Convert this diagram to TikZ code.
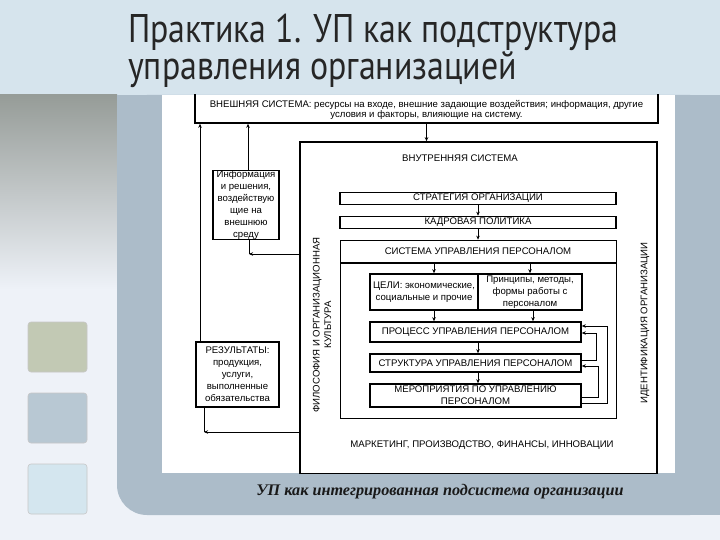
\documentclass[tikz,border=0pt]{standalone}
\usepackage{fontspec}
\setmainfont{Liberation Sans}
\newfontfamily\titlefont{PT Sans}
\newfontfamily\capfont{Liberation Serif}
\usetikzlibrary{arrows.meta}
\definecolor{bandblue}{RGB}{214,228,237}
\definecolor{pagebg}{RGB}{238,242,248}
\definecolor{panel}{RGB}{172,188,201}
\definecolor{sqgreen}{RGB}{194,201,180}
\definecolor{sqblue}{RGB}{184,200,211}
\definecolor{sqlight}{RGB}{212,230,239}
\definecolor{imgdark}{RGB}{104,104,92}
\definecolor{imgtop}{RGB}{150,156,152}
\begin{document}
\begin{tikzpicture}[x=1pt,y=-1pt,
  box/.style={draw, line width=1.6pt, inner sep=0pt, align=center, font=\fontsize{9.6}{12}\selectfont},
  thinbox/.style={draw, line width=0.7pt, inner sep=0pt},
  lbl/.style={inner sep=0pt, align=center, font=\fontsize{9.6}{11.5}\selectfont},
  arr/.style={line width=0.7pt, -{Stealth[length=4pt,width=3.5pt]}},
  link/.style={line width=0.7pt},
  sq/.style={rounded corners=3pt, draw=black!22, line width=0.6pt, minimum width=59pt, minimum height=50pt}]
\useasboundingbox (0,0) rectangle (720,540);
\fill[pagebg] (0,0) rectangle (720,540);
\fill[bandblue] (0,0) rectangle (720,95);
\shade[top color=imgtop, middle color=imgdark, bottom color=pagebg] (0,95) rectangle (117,290);
\fill[panel, rounded corners=30pt] (117,95) rectangle (720,515);
\fill[panel] (117,95) rectangle (720,300);
\fill[panel] (300,95) rectangle (720,515);
\fill[white] (162,95) rectangle (675,473);
\node[sq, fill=sqgreen] (sq1) at (57.5,347) {};
\node[sq, fill=sqblue] (sq2) at (57.5,418) {};
\node[sq, fill=sqlight] (sq3) at (57.5,489) {};
\node[anchor=base west, inner sep=0pt, text=black!85, font=\titlefont\fontsize{40}{42}\selectfont] (title1) at (128,43) {\scalebox{0.846}[1]{Практика 1. УП как подструктура}};
\node[anchor=base west, inner sep=0pt, text=black!85, font=\titlefont\fontsize{40}{42}\selectfont] (title2) at (128,80) {\scalebox{0.846}[1]{управления организацией}};
\begin{scope}
\clip (162,95) rectangle (675,473);
\node[box, minimum width=463pt, minimum height=40pt] (ext) at (426.5,103) {};
\node[lbl, font=\fontsize{9.6}{10.5}\selectfont] (exttxt) at (426.5,110) {ВНЕШНЯЯ СИСТЕМА: ресурсы на входе, внешние задающие воздействия; информация, другие\\условия и факторы, влияющие на систему.};
\node[box, minimum width=357pt, minimum height=332pt] (int) at (478.5,308) {};
\node[lbl] (inttxt) at (460,158) {ВНУТРЕННЯЯ СИСТЕМА};
\node[box, minimum width=276pt, minimum height=12pt] (strat) at (478,198.5) {СТРАТЕГИЯ ОРГАНИЗАЦИИ};
\node[box, minimum width=276pt, minimum height=12pt] (kadr) at (478,222.5) {КАДРОВАЯ ПОЛИТИКА};
\node[thinbox, minimum width=276pt, minimum height=178pt] (sup) at (478,329) {};
\node[lbl] (suptxt) at (478,251) {СИСТЕМА УПРАВЛЕНИЯ ПЕРСОНАЛОМ};
\coordinate (hdrL) at (340,263);
\coordinate (hdrR) at (616,263);
\draw[line width=1.6pt] (hdrL) -- (hdrR);
\node[box, minimum width=108pt, minimum height=36pt] (goalL) at (424,292) {ЦЕЛИ: экономические,\\социальные и прочие};
\node[box, minimum width=104pt, minimum height=36pt] (goalR) at (530,292) {Принципы, методы,\\формы работы с\\персоналом};
\node[box, minimum width=211pt, minimum height=20pt] (proc) at (475.5,332) {ПРОЦЕСС УПРАВЛЕНИЯ ПЕРСОНАЛОМ};
\node[box, minimum width=211pt, minimum height=18pt] (struct) at (475.5,363) {СТРУКТУРА УПРАВЛЕНИЯ ПЕРСОНАЛОМ};
\node[box, minimum width=211pt, minimum height=23pt] (event) at (475.5,395.5) {МЕРОПРИЯТИЯ ПО УПРАВЛЕНИЮ\\ПЕРСОНАЛОМ};
\node[box, minimum width=66pt, minimum height=68pt] (info) at (246,205) {Информация\\и решения,\\воздействую\\щие на\\внешнюю\\среду};
\node[box, minimum width=83pt, minimum height=65pt] (res) at (237.5,374.5) {РЕЗУЛЬТАТЫ:\\продукция,\\услуги,\\выполненные\\обязательства};
\node[lbl, rotate=90] (phil) at (322,325) {ФИЛОСОФИЯ И ОРГАНИЗАЦИОННАЯ\\КУЛЬТУРА};
\node[lbl, rotate=90] (ident) at (645,323) {ИДЕНТИФИКАЦИЯ ОРГАНИЗАЦИИ};
\node[lbl] (mkt) at (482,445) {МАРКЕТИНГ, ПРОИЗВОДСТВО, ФИНАНСЫ, ИННОВАЦИИ};
\draw[arr] (ext.south) -- (ext.south |- int.north);
\draw[arr] (strat) -- (kadr);
\draw[arr] (kadr) -- (kadr.south |- sup.north);
\draw[arr] ([xshift=10pt]goalL.north |- hdrL) -- ([xshift=10pt]goalL.north);
\draw[arr] (goalR.north |- hdrR) -- (goalR.north);
\draw[arr] ([xshift=10pt]goalL.south) -- ([xshift=10pt]goalL.south |- proc.north);
\draw[arr] ([xshift=3pt]goalR.south) -- ([xshift=3pt]goalR.south |- proc.north);
\draw[arr] ([xshift=2.5pt]proc.south) -- ([xshift=2.5pt]struct.north);
\draw[arr] ([xshift=2.5pt]struct.south) -- ([xshift=2.5pt]event.north);
\draw[arr] ([yshift=3pt]struct.east) -- ++(15,0) |- ([yshift=-1pt]proc.east);
\draw[arr] ([yshift=-1.5pt]event.east) -- ++(17,0) |- ([yshift=-3pt]struct.east);
\draw[arr] ([yshift=-7.5pt]event.east) -- ++(26,0) |- ([yshift=6pt]proc.east);
\draw[arr] ([xshift=2pt]info.north) -- ([xshift=2pt]info.north |- ext.south);
\coordinate (infoin) at (249,254);
\draw[link] ([xshift=3pt]info.south) -- (infoin);
\draw[arr] (int.west |- infoin) -- (infoin);
\draw[arr] ([xshift=-37.5pt]res.north) -- ([xshift=-37.5pt]res.north |- ext.south);
\coordinate (resin) at (204,432);
\draw[link] ([xshift=-33.5pt]res.south) -- (resin);
\draw[arr] (int.west |- resin) -- (resin);
\end{scope}
\node[text=black!90, font=\capfont\bfseries\itshape\fontsize{16.2}{19}\selectfont] (cap) at (440,492) {УП как интегрированная подсистема организации};
\end{tikzpicture}
\end{document}
